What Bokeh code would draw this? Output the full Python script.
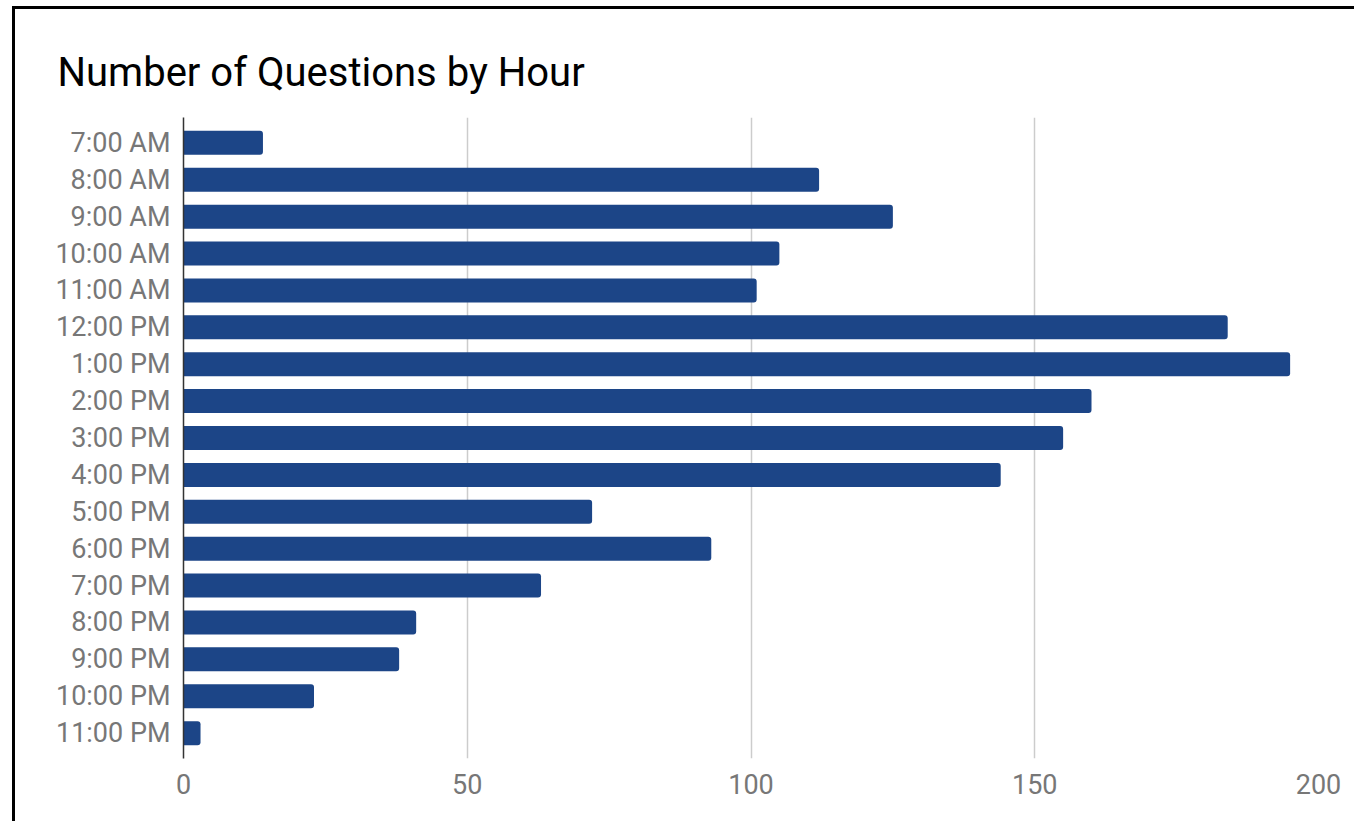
from bokeh.plotting import figure
from bokeh.models import FactorRange, Range1d, ColumnDataSource, FixedTicker
from bokeh.embed import file_html
from bokeh.resources import INLINE

hours = ["7:00 AM", "8:00 AM", "9:00 AM", "10:00 AM", "11:00 AM", "12:00 PM",
         "1:00 PM", "2:00 PM", "3:00 PM", "4:00 PM", "5:00 PM", "6:00 PM",
         "7:00 PM", "8:00 PM", "9:00 PM", "10:00 PM", "11:00 PM"]
questions = [14, 112, 125, 105, 101, 184, 195, 160, 155, 144, 72, 93, 63, 41, 38, 23, 3]
x_ticks = [0, 50, 100, 150, 200]

title_text = "Number of Questions by Hour"

src = ColumnDataSource(data=dict(hour=hours, count=questions))

p = figure(
    width=1342, height=815,
    y_range=FactorRange(factors=list(reversed(hours)), range_padding=0.022),
    x_range=Range1d(0, 200),
    output_backend="svg", toolbar_location=None,
    title=title_text,
    min_border_left=168, min_border_right=39, min_border_top=108, min_border_bottom=66,
)
p.styles = {"margin-left": "12px", "margin-top": "6px",
            "border-left": "3px solid #000", "border-top": "3px solid #000"}

p.hbar(y="hour", right="count", left=0, height=0.65, source=src,
       fill_color="#1c4587", line_color=None, border_radius=(0, 3, 3, 0))

p.title.text_font = "Roboto"
p.title.text_font_size = "40px"
p.title.text_font_style = "normal"
p.title.text_color = "#000000"
p.title.align = "left"
p.title.offset = -126
p.title.standoff = 44

p.outline_line_color = None
p.background_fill_color = "white"
p.border_fill_color = "white"

p.ygrid.grid_line_color = None
p.xgrid.grid_line_color = "#cccccc"
p.xgrid.grid_line_width = 1.5
p.xgrid.ticker = FixedTicker(ticks=x_ticks)

p.xaxis.ticker = FixedTicker(ticks=x_ticks)
p.xaxis.axis_line_color = None
p.xaxis.major_tick_line_color = None
p.xaxis.minor_tick_line_color = None
p.xaxis.major_tick_out = 0
p.xaxis.minor_tick_out = 0
p.xaxis.major_label_text_font = "Roboto"
p.xaxis.major_label_text_font_size = "27px"
p.xaxis.major_label_text_color = "#777777"
p.xaxis.major_label_standoff = 15

p.yaxis.axis_line_color = "#333333"
p.yaxis.axis_line_width = 1.5
p.yaxis.major_tick_line_color = None
p.yaxis.minor_tick_line_color = None
p.yaxis.major_tick_out = 0
p.yaxis.minor_tick_out = 0
p.yaxis.major_label_text_font = "Roboto"
p.yaxis.major_label_text_font_size = "27px"
p.yaxis.major_label_text_color = "#777777"
p.yaxis.major_label_standoff = 13

open("out.html", "w").write(file_html(p, INLINE))
